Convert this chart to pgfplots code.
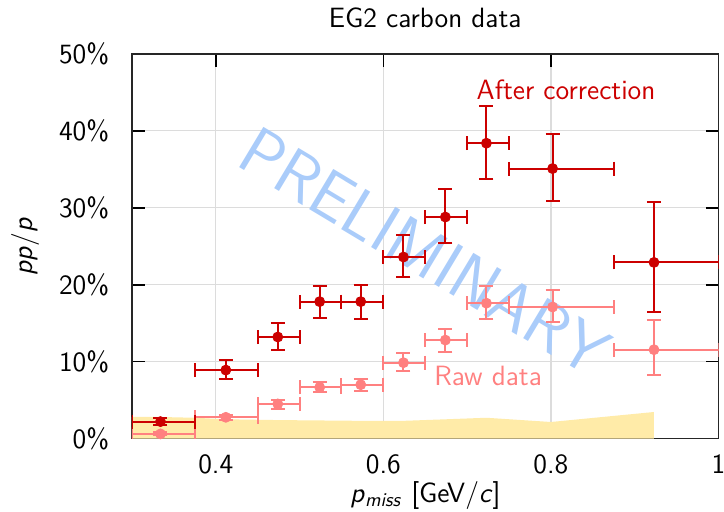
\documentclass[border=0pt]{standalone}
\usepackage{pgfplots}
\pgfplotsset{compat=1.18}
\usetikzlibrary{calc}
\renewcommand{\familydefault}{\sfdefault}
\definecolor{CorrRed}{RGB}{204,0,0}
\definecolor{RawPink}{RGB}{255,128,128}
\definecolor{SysBand}{RGB}{255,235,168}
\definecolor{WaterBlue}{RGB}{170,204,250}
\definecolor{GridGray}{RGB}{220,220,220}
\newcommand{\lbl}{\fontsize{14}{16.8}\selectfont\sffamily}

\pgfplotsset{
  layers/gridback/.define layer set={axis background,axis grid,pre main,main,
    axis ticks,axis lines,axis tick labels,axis descriptions,axis foreground}{},
}

% x  y  xm  xp  ym  yp
\pgfplotstableread{
x     y     xm    xp    ym   yp
0.334 2.2   0.034 0.041 0.5  0.5
0.412 8.9   0.037 0.038 1.2  1.3
0.474 13.2  0.024 0.026 1.7  1.8
0.524 17.8  0.024 0.026 2.1  2.0
0.573 17.8  0.023 0.027 2.3  2.2
0.624 23.6  0.024 0.026 2.6  2.8
0.674 28.8  0.024 0.026 3.4  3.7
0.723 38.4  0.023 0.027 4.7  4.8
0.802 35.1  0.052 0.073 4.2  4.5
0.923 22.9  0.048 0.077 6.5  7.8
}\corrdata

\pgfplotstableread{
x     y     xm    xp    ym   yp
0.334 0.6   0.034 0.041 0.2  0.2
0.412 2.76  0.037 0.038 0.35 0.35
0.474 4.5   0.024 0.026 0.6  0.5
0.524 6.66  0.024 0.026 0.65 0.65
0.573 7.0   0.023 0.027 0.8  0.8
0.624 9.86  0.024 0.026 1.05 1.25
0.674 12.8  0.024 0.026 1.6  1.5
0.723 17.6  0.023 0.027 2.1  2.2
0.802 17.1  0.052 0.073 2.0  2.2
0.923 11.55 0.048 0.077 3.25 3.85
}\rawdata

\begin{document}
\begin{tikzpicture}
\begin{axis}[
    set layers=gridback,
    scale only axis,
    width=293.3bp, height=192.3bp,
    xmin=0.3, xmax=1, ymin=0, ymax=50,
    xtick={0.4,0.6,0.8,1}, xticklabels={0.4,0.6,0.8,1},
    ytick={0,10,20,30,40,50},
    yticklabels={0\%,10\%,20\%,30\%,40\%,50\%},
    tick align=inside,
    major tick length=6.5bp,
    tick style={black, line width=0.8bp},
    axis line style={black!85, line width=0.9bp},
    grid=major,
    grid style={GridGray, line width=0.6bp},
    tick label style={font=\lbl},
    xticklabel style={yshift=-4.3bp},
    yticklabel style={xshift=-7.9bp},
    title={EG2 carbon data},
    title style={font=\lbl, at={(axis description cs:0.5,1)}, anchor=center, yshift=12.2bp},
    xlabel={\textsl{p}\textsubscript{\textsl{miss}} [GeV/\textsl{c}]},
    xlabel style={font=\lbl, at={(axis description cs:0.5,-0.148)}, anchor=center},
    ylabel={\textsl{pp}/\textsl{p}},
    ylabel style={font=\lbl, at={(axis description cs:-0.182,0.5)}, anchor=center},
    clip mode=individual,
]
% systematic band
\addplot[fill=SysBand, draw=none] coordinates {
  (0.3,2.8) (0.334,2.8) (0.375,2.7) (0.412,2.5) (0.474,2.4) (0.524,2.35)
  (0.574,2.3) (0.624,2.3) (0.674,2.5) (0.723,2.7) (0.8,2.15) (0.923,3.45)
} \closedcycle;

\node[rotate=-31, text=WaterBlue, font=\fontsize{34}{38}\selectfont\sffamily]
  at (axis cs:0.649,24.3) {PRELIMINARY};

% raw data
\addplot[only marks, mark=*, color=RawPink, mark size=2.5bp,
  error bars/.cd, x dir=both, y dir=both, x explicit, y explicit,
  error bar style={line width=1bp, RawPink},
  error mark options={rotate=90, mark size=3.5bp, line width=1bp, RawPink}]
  table[x=x, y=y, x error minus=xm, x error plus=xp,
        y error minus=ym, y error plus=yp] {\rawdata};

% corrected data
\addplot[only marks, mark=*, color=CorrRed, mark size=2.5bp,
  error bars/.cd, x dir=both, y dir=both, x explicit, y explicit,
  error bar style={line width=1bp, CorrRed},
  error mark options={rotate=90, mark size=3.5bp, line width=1bp, CorrRed}]
  table[x=x, y=y, x error minus=xm, x error plus=xp,
        y error minus=ym, y error plus=yp] {\corrdata};

\node[text=CorrRed, font=\lbl] at (axis cs:0.818,45.3) {After correction};
\node[text=RawPink, font=\lbl] at (axis cs:0.725,8.1) {Raw data};

\coordinate (SW) at (rel axis cs:0,0);
\coordinate (NE) at (rel axis cs:1,1);
\end{axis}
\pgfresetboundingbox
\path ($(SW)+(-66bp,-36.25bp)$) rectangle ($(NE)+(2.75bp,27bp)$);
\end{tikzpicture}
\end{document}
